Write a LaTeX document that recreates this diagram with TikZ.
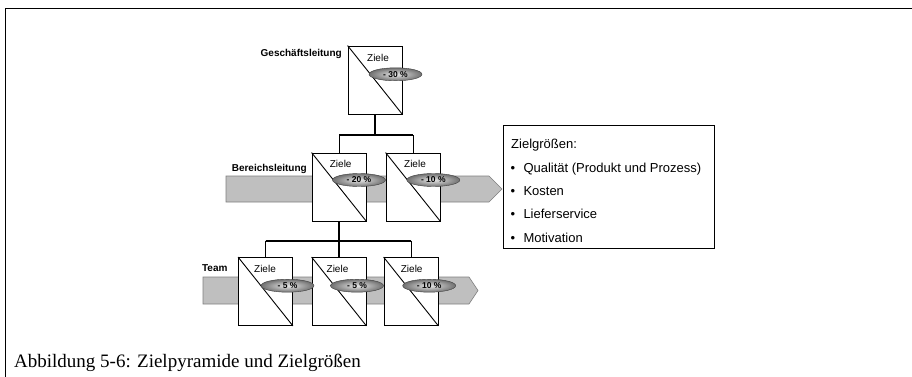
\documentclass[tikz,border=0pt]{standalone}
\usepackage{fontspec}
\setmainfont{Liberation Serif}
\newfontfamily\arialfont{Liberation Sans}
\usetikzlibrary{shapes.geometric}
% grey pill shading: light core, dark rim
\pgfdeclareradialshading{pillshade}{\pgfpoint{0bp}{0bp}}{%
  color(0bp)=(black!10); color(10bp)=(black!28); color(26bp)=(black!58); color(40bp)=(black!72); color(50bp)=(black!80)}

\begin{document}
\begin{tikzpicture}[x=1pt,y=-1pt,
  goalbox/.style={draw=black, line width=0.9pt, fill=white,
    minimum width=54pt, minimum height=68pt, inner sep=0pt},
  pill/.style={ellipse, shading=pillshade, draw=black!75, line width=0.4pt,
    minimum width=53pt, minimum height=13pt, inner sep=0pt,
    font=\arialfont\fontsize{8.5}{9}\selectfont\bfseries},
  lvl/.style={anchor=base east, inner sep=0pt,
    font=\arialfont\fontsize{10}{12}\selectfont\bfseries},
  zl/.style={anchor=base, inner sep=0pt, font=\arialfont\fontsize{10}{12}\selectfont},
  band/.style={fill=black!25, draw=black!50, line width=0.6pt},
  trunk/.style={line width=2pt},
  twig/.style={line width=1pt},
  item/.style={anchor=base west, inner sep=0pt, font=\arialfont\fontsize{13}{15}\selectfont},
]
\useasboundingbox (0,0) rectangle (912,377);

% page frame (top and left rule)
\draw[line width=1pt] (912,8.3) -- (5.3,8.3) -- (5.3,377);

% level bands
\draw[band] (226,176) -- (489,176) -- (502,189) -- (489,202) -- (226,202) -- cycle;
\draw[band] (203,277) -- (469,277) -- (478,290.5) -- (469,304) -- (203,304) -- cycle;

% goal boxes
\node[goalbox] (gl) at (375,80) {};
\node[goalbox] (b1) at (339,187) {};
\node[goalbox] (b2) at (413,187) {};
\node[goalbox] (t1) at (265.5,291.5) {};
\node[goalbox] (t2) at (339,291.5) {};
\node[goalbox] (t3) at (411,291.5) {};
\foreach \b in {gl,b1,b2,t1,t2,t3}
  \draw[line width=0.9pt] (\b.north west) -- (\b.south east);

% hierarchy connectors
\coordinate (j1) at (375,135);
\coordinate (j2) at (339,240.7);
\draw[trunk] (gl.south) -- (j1);
\draw[trunk] (b1.north |- j1) -- (b2.north |- j1);
\draw[twig] (b1.north |- j1) -- (b1.north);
\draw[twig] (b2.north |- j1) -- (b2.north);
\draw[trunk] (b1.south) -- (t2.north);
\draw[trunk] (t1.north |- j2) -- (t3.north |- j2);
\draw[twig] (t1.north |- j2) -- (t1.north);
\draw[twig] (t3.north |- j2) -- (t3.north);

% level names
\node[lvl] (lgl) at (342,57) {Geschäftsleitung};
\node[lvl] (lbl) at (307,171.3) {Bereichsleitung};
\node[lvl] (ltm) at (227.7,271.3) {Team};

% box captions
\node[zl] (zgl) at (378,61.1) {Ziele};
\node[zl] (zb1) at (340.7,167.9) {Ziele};
\node[zl] (zb2) at (415,167.9) {Ziele};
\node[zl] (zt1) at (265,272.9) {Ziele};
\node[zl] (zt2) at (337.5,272.9) {Ziele};
\node[zl] (zt3) at (411.7,272.9) {Ziele};

% reduction targets
\node[pill] (pgl) at (395.5,74.3) {- 30 \%};
\node[pill] (pb1) at (359,180) {- 20 \%};
\node[pill] (pb2) at (433.3,180) {- 10 \%};
\node[pill] (pt1) at (287.5,285.7) {- 5 \%};
\node[pill] (pt2) at (357,285.7) {- 5 \%};
\node[pill] (pt3) at (429.2,285.7) {- 10 \%};

% target dimensions
\node[draw, line width=0.8pt, minimum width=211pt, minimum height=123pt,
  anchor=north west, inner sep=0pt] (zg) at (503,125) {};
\node[item] (zgh) at (511,148.9) {Zielgrößen:};
\node[item] (zg1) at (510.5,172.3) {\makebox[12.8pt][l]{\textbullet}Qualität (Produkt und Prozess)};
\node[item] (zg2) at (510.5,195.6) {\makebox[12.8pt][l]{\textbullet}Kosten};
\node[item] (zg3) at (510.5,218.9) {\makebox[12.8pt][l]{\textbullet}Lieferservice};
\node[item] (zg4) at (510.5,242.1) {\makebox[12.8pt][l]{\textbullet}Motivation};

% figure caption
\node[anchor=base west, inner sep=0pt, font=\fontsize{19}{22}\selectfont] (cap)
  at (14,367) {Abbildung 5-6: Zielpyramide und Zielgrößen};
\end{tikzpicture}
\end{document}
